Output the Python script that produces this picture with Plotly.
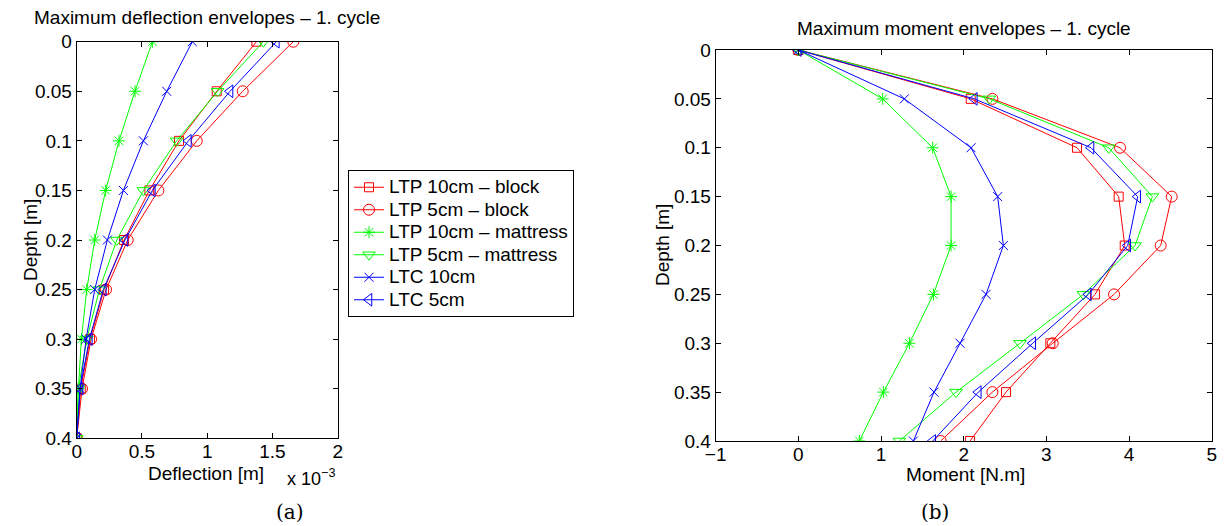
import plotly.graph_objects as go

W, H = 1229, 526
OFF = 8  # default body margin of the html page
FW, FH = W - OFF, H - OFF

depth = [0, 0.05, 0.1, 0.15, 0.2, 0.25, 0.3, 0.35, 0.4]

series_names = ["LTP 10cm \u2013 block", "LTP 5cm \u2013 block", "LTP 10cm \u2013 mattress",
                "LTP 5cm \u2013 mattress", "LTC 10cm", "LTC 5cm"]
colors = ["#ff0000", "#ff0000", "#00ff00", "#00ff00", "#0000ff", "#0000ff"]
symbols = ["square-open", "circle-open", "asterisk-open", "triangle-down-open", "x-thin-open", "triangle-left-open"]
msizes = [9, 11, 10, 11, 9, 11]

# deflection in units of 1e-3 m
defl_ltp10_block = [1.377, 1.073, 0.784, 0.557, 0.363, 0.21, 0.102, 0.031, 0.0]
defl_ltp5_block = [1.66, 1.272, 0.92, 0.626, 0.391, 0.225, 0.11, 0.041, 0.0]
defl_ltp10_matt = [0.58, 0.447, 0.324, 0.222, 0.138, 0.077, 0.036, 0.013, 0.0]
defl_ltp5_matt = [1.43, 1.08, 0.766, 0.511, 0.307, 0.174, 0.077, 0.013, 0.0]
defl_ltc10 = [0.886, 0.69, 0.511, 0.358, 0.235, 0.138, 0.072, 0.026, 0.0]
defl_ltc5 = [1.53, 1.175, 0.856, 0.58, 0.37, 0.204, 0.097, 0.026, 0.0]

mom_ltp10_block = [0, 2.085, 3.371, 3.875, 3.948, 3.589, 3.048, 2.512, 2.077]
mom_ltp5_block = [0, 2.347, 3.891, 4.516, 4.383, 3.819, 3.077, 2.347, 1.722]
mom_ltp10_matt = [0, 1.02, 1.625, 1.847, 1.847, 1.633, 1.343, 1.028, 0.738]
mom_ltp5_matt = [0, 2.31, 3.754, 4.282, 4.073, 3.448, 2.681, 1.907, 1.222]
mom_ltc10 = [0, 1.282, 2.089, 2.411, 2.48, 2.27, 1.956, 1.641, 1.391]
mom_ltc5 = [0, 2.129, 3.54, 4.105, 3.984, 3.508, 2.835, 2.177, 1.625]

defl = [defl_ltp10_block, defl_ltp5_block, defl_ltp10_matt, defl_ltp5_matt, defl_ltc10, defl_ltc5]
mom = [mom_ltp10_block, mom_ltp5_block, mom_ltp10_matt, mom_ltp5_matt, mom_ltc10, mom_ltc5]

defl_ticks = [0, 0.5, 1, 1.5, 2]
defl_ticktext = ["0", "0.5", "1", "1.5", "2"]
mom_ticks = [-1, 0, 1, 2, 3, 4, 5]
depth_ticks = [0, 0.05, 0.1, 0.15, 0.2, 0.25, 0.3, 0.35, 0.4]
depth_ticktext = ["0", "0.05", "0.1", "0.15", "0.2", "0.25", "0.3", "0.35", "0.4"]

FONT = "Liberation Sans, Arial, sans-serif"
FS = 19

fig = go.Figure()
for i in range(6):
    fig.add_trace(go.Scatter(x=defl[i], y=depth, mode="lines+markers",
                             name='<span style="font-size:19px">' + series_names[i] + '</span>',
                             line=dict(color=colors[i], width=1),
                             marker=dict(symbol=symbols[i], size=msizes[i], color=colors[i],
                                         line=dict(width=1, color=colors[i])),
                             xaxis="x", yaxis="y", showlegend=True))
for i in range(6):
    fig.add_trace(go.Scatter(x=mom[i], y=depth, mode="lines+markers", name=series_names[i],
                             line=dict(color=colors[i], width=1),
                             marker=dict(symbol=symbols[i], size=msizes[i], color=colors[i],
                                         line=dict(width=1, color=colors[i])),
                             xaxis="x2", yaxis="y2", showlegend=False))

def px_x(p):
    return (p - OFF) / FW

def px_y(p):
    return 1 - (p - OFF) / FH

axis_common = dict(showline=True, linecolor="black", linewidth=1, mirror="ticks", ticks="inside",
                   ticklen=5, tickcolor="black", showgrid=False, zeroline=False, automargin=False,
                   tickfont=dict(family=FONT, size=FS, color="black"))

fig.update_layout(
    width=FW, height=FH, margin=dict(l=0, r=0, t=0, b=0, autoexpand=False),
    paper_bgcolor="white", plot_bgcolor="white",
    font=dict(family=FONT, size=FS, color="black"),
    xaxis=dict(domain=[px_x(76.7), px_x(337.7)], range=[0, 2], tickvals=defl_ticks,
               ticktext=defl_ticktext, anchor="y", ticklabelstandoff=-4, **axis_common),
    yaxis=dict(domain=[px_y(438.3), px_y(41.7)], range=[0.4, 0], tickvals=depth_ticks,
               ticktext=depth_ticktext, anchor="x", **axis_common),
    xaxis2=dict(domain=[px_x(715.7), px_x(1211.7)], range=[-1, 5], tickvals=mom_ticks, anchor="y2",
                ticklabelstandoff=-4, **axis_common),
    yaxis2=dict(domain=[px_y(441), px_y(50)], range=[0.4, 0], tickvals=depth_ticks,
                ticktext=depth_ticktext, anchor="x2", **axis_common),
    legend=dict(x=px_x(348), y=px_y(170), xanchor="left", yanchor="top",
                bordercolor="black", borderwidth=1, bgcolor="white",
                font=dict(family=FONT, size=15, color="black"), tracegroupgap=0,
                itemwidth=30),
)

ann = [
    dict(text="Maximum deflection envelopes \u2013 1. cycle", x=px_x(207), y=px_y(18)),
    dict(text="Maximum moment envelopes \u2013 1. cycle", x=px_x(964), y=px_y(28)),
    dict(text="Deflection [m]", x=px_x(206), y=px_y(473)),
    dict(text="Moment [N.m]", x=px_x(965), y=px_y(474)),
    dict(text="Depth [m]", x=px_x(30), y=px_y(240), textangle=-90),
    dict(text="Depth [m]", x=px_x(662), y=px_y(245), textangle=-90),
]
for a in ann:
    fig.add_annotation(xref="paper", yref="paper", showarrow=False, xanchor="center", yanchor="middle",
                       font=dict(family=FONT, size=FS, color="black"), **a)

fig.add_annotation(text="x 10<sup>\u22123</sup>", xref="paper", yref="paper", x=px_x(285), y=px_y(477),
                   showarrow=False, xanchor="left", yanchor="middle",
                   font=dict(family=FONT, size=18, color="black"))

for txt, xp in [("(a)", 290), ("(b)", 935)]:
    fig.add_annotation(text=txt, xref="paper", yref="paper", x=px_x(xp), y=px_y(512), showarrow=False,
                       xanchor="center", yanchor="middle",
                       font=dict(family="DejaVu Serif, Liberation Serif, serif", size=20, color="black"))

fig.write_html("out.html")
